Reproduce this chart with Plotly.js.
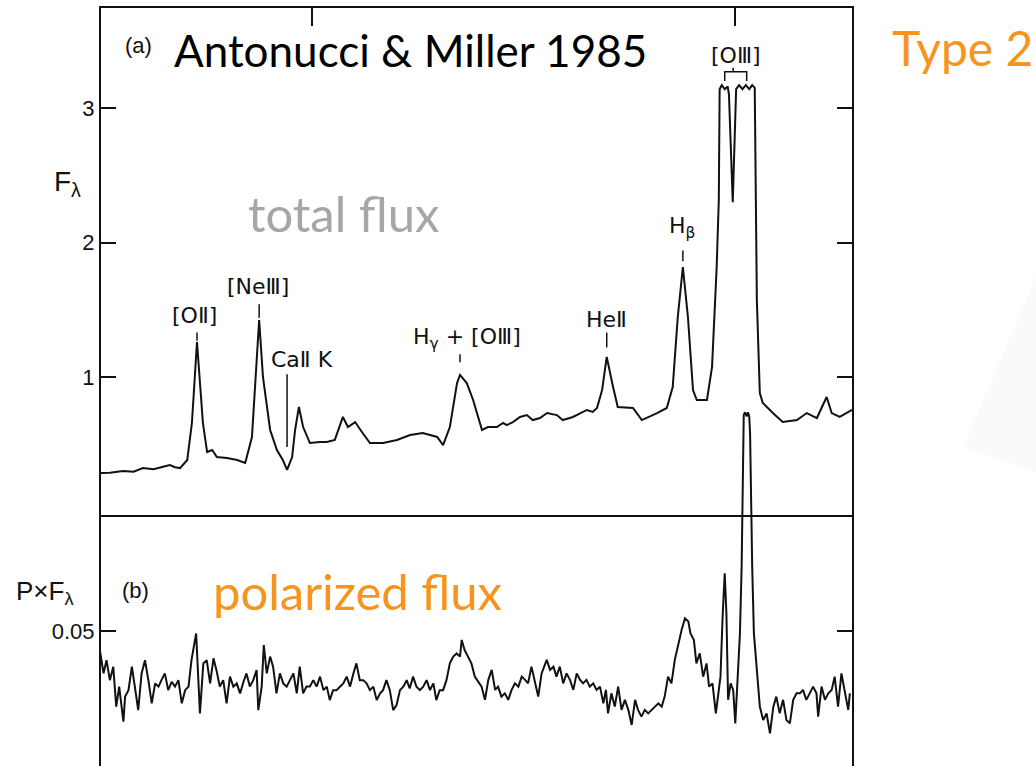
<!DOCTYPE html>
<html>
<head>
<meta charset="utf-8">
<script src="https://cdn.plot.ly/plotly-3.0.1.min.js"></script>
<style>html,body{margin:0;padding:0;background:#fff;}#chart{width:1036px;height:766px;}</style>
</head>
<body>
<div id="chart"></div>
<script>
// ---- Data ----
// Wavelength in Angstrom (axis ticks at 4000 and 5000)
const totalWave = [3501,3522,3553,3578,3600,3625,3648,3664,3676,3688,3705,3716,3728,3742,3752,3764,3775,3799,3823,3842,3858,3870,3875,3884,3901,3917,3931,3941,3953,3960,3969,3979,3995,4019,4035,4054,4073,4085,4102,4118,4137,4168,4201,4232,4262,4296,4310,4326,4343,4350,4366,4381,4402,4416,4437,4452,4461,4475,4492,4508,4522,4539,4556,4579,4593,4617,4634,4650,4664,4674,4686,4697,4712,4723,4759,4780,4816,4839,4853,4865,4877,4889,4901,4910,4934,4946,4957,4962,4964,4969,4976,4983,4986,4995,5003,5010,5018,5026,5034,5041,5047,5052,5059,5066,5090,5113,5147,5170,5194,5217,5229,5248,5277];
const totalFlux = [0.286,0.288,0.301,0.296,0.323,0.314,0.333,0.346,0.329,0.323,0.383,0.658,1.260,0.658,0.442,0.457,0.405,0.398,0.383,0.361,0.554,1.201,1.424,1.000,0.606,0.457,0.383,0.309,0.405,0.606,0.777,0.628,0.509,0.517,0.517,0.532,0.703,0.628,0.665,0.591,0.509,0.509,0.532,0.569,0.584,0.554,0.494,0.628,0.955,1.015,0.955,0.829,0.606,0.628,0.628,0.658,0.643,0.665,0.703,0.717,0.680,0.695,0.732,0.717,0.680,0.703,0.732,0.755,0.740,0.770,0.903,1.149,0.926,0.777,0.770,0.680,0.732,0.770,0.926,1.446,1.818,1.446,0.903,0.829,0.829,1.074,1.818,2.316,3.14,3.17,3.14,3.16,3.10,2.30,3.14,3.17,3.14,3.17,3.14,3.17,3.15,1.570,0.881,0.807,0.732,0.665,0.680,0.732,0.695,0.851,0.732,0.703,0.755];

const polWave = [3492,3499,3507,3514,3522,3530,3537,3544,3554,3558,3566,3574,3581,3589,3597,3605,3613,3621,3629,3637,3644,3652,3660,3668,3676,3684,3692,3700,3708,3715,3726,3731,3735,3743,3751,3759,3767,3774,3782,3790,3798,3806,3814,3822,3830,3838,3845,3853,3861,3869,3873,3881,3886,3893,3901,3908,3916,3924,3932,3940,3948,3956,3964,3971,3979,3987,3995,4003,4011,4019,4027,4035,4042,4050,4058,4066,4074,4082,4090,4098,4105,4113,4121,4129,4137,4145,4153,4161,4168,4176,4184,4192,4200,4208,4216,4224,4231,4239,4247,4255,4263,4271,4279,4287,4294,4302,4310,4318,4326,4334,4342,4350,4354,4361,4369,4377,4385,4397,4401,4409,4417,4425,4433,4440,4448,4456,4464,4472,4480,4488,4496,4504,4511,4519,4527,4535,4543,4555,4563,4571,4578,4586,4594,4602,4610,4618,4626,4634,4641,4649,4657,4665,4673,4681,4689,4695,4700,4708,4716,4724,4732,4740,4748,4756,4764,4771,4779,4787,4795,4803,4811,4819,4827,4834,4842,4850,4858,4866,4874,4882,4890,4895,4903,4909,4917,4925,4933,4939,4947,4955,4961,4966,4971,4976,4980,4984,4990,4996,5001,5006,5012,5016,5020,5021,5024,5028,5031,5034,5036,5037,5041,5045,5051,5059,5067,5075,5083,5091,5098,5106,5114,5122,5130,5138,5146,5154,5161,5169,5177,5185,5193,5197,5205,5213,5221,5229,5236,5244,5252,5260,5268,5272];
const polFlux = [0.0294,0.0423,0.0343,0.0392,0.0318,0.0368,0.0220,0.0294,0.0164,0.0257,0.0281,0.0368,0.0294,0.0207,0.0343,0.0392,0.0318,0.0232,0.0306,0.0294,0.0318,0.0343,0.0281,0.0312,0.0294,0.0318,0.0232,0.0281,0.0294,0.0392,0.0491,0.0294,0.0195,0.0380,0.0392,0.0306,0.0399,0.0355,0.0294,0.0318,0.0232,0.0331,0.0294,0.0306,0.0269,0.0312,0.0343,0.0294,0.0318,0.0355,0.0207,0.0294,0.0448,0.0343,0.0405,0.0368,0.0269,0.0343,0.0306,0.0294,0.0318,0.0343,0.0269,0.0368,0.0269,0.0294,0.0294,0.0318,0.0294,0.0331,0.0281,0.0294,0.0244,0.0281,0.0281,0.0294,0.0306,0.0331,0.0294,0.0343,0.0380,0.0318,0.0318,0.0306,0.0281,0.0294,0.0244,0.0269,0.0281,0.0318,0.0281,0.0207,0.0226,0.0281,0.0294,0.0318,0.0287,0.0331,0.0294,0.0281,0.0294,0.0318,0.0281,0.0306,0.0244,0.0281,0.0281,0.0318,0.0380,0.0405,0.0417,0.0405,0.0467,0.0429,0.0405,0.0380,0.0331,0.0306,0.0294,0.0245,0.0319,0.0356,0.0282,0.0294,0.0257,0.0269,0.0245,0.0282,0.0306,0.0294,0.0331,0.0319,0.0306,0.0368,0.0306,0.0257,0.0343,0.0393,0.0356,0.0368,0.0331,0.0368,0.0306,0.0343,0.0319,0.0282,0.0343,0.0319,0.0306,0.0319,0.0294,0.0306,0.0282,0.0294,0.0232,0.0282,0.0195,0.0269,0.0220,0.0294,0.0208,0.0245,0.0208,0.0152,0.0245,0.0208,0.0183,0.0208,0.0195,0.0208,0.0220,0.0232,0.0220,0.0257,0.0331,0.0306,0.0393,0.0454,0.0504,0.0547,0.0535,0.0491,0.0467,0.0380,0.0417,0.0331,0.0380,0.0294,0.0306,0.0195,0.0282,0.0331,0.0553,0.0714,0.0565,0.0245,0.0306,0.0282,0.0158,0.0306,0.0491,0.0738,0.1109,0.1300,0.1310,0.1295,0.1310,0.1295,0.1230,0.1109,0.0738,0.0491,0.0368,0.0220,0.0170,0.0195,0.0121,0.0220,0.0257,0.0195,0.0245,0.0170,0.0158,0.0245,0.0269,0.0269,0.0282,0.0245,0.0269,0.0294,0.0269,0.0183,0.0294,0.0245,0.0269,0.0282,0.0331,0.0220,0.0343,0.0282,0.0208,0.0269];

const fluxTicks = [1, 2, 3];
const polTicks = [0.05];
const polTickText = ['0.05'];
const waveTicks = [4000, 5000];

// line identifications: label, label wavelength, label flux, tick wavelength, tick flux from/to
const lineNames = ['[OⅡ]', '[NeⅢ]', 'CaⅡ K', 'H<sub>γ</sub> + [OⅢ]', 'HeⅡ', 'H<sub>β</sub>', '[OⅢ]'];
const lineLabelWave = [3723, 3872, 3976, 4366, 4697, 4875, 5002];
const lineLabelFlux = [1.46, 1.67, 1.13, 1.29, 1.43, 2.11, 3.39];
const lineTickWave = [3728, 3875, 3941, 4350, 4697, 4877, 4996];
const lineTickFrom = [1.33, 1.54, 1.02, 1.17, 1.33, 1.94, 3.30];
const lineTickTo = [1.27, 1.44, 0.48, 1.11, 1.22, 1.86, 3.27];

// ---- Layout helpers (pixel -> paper) ----
const W = 1036, H = 766;
const px = x => x / W;
const py = y => 1 - y / H;
const LEFT = 101, RIGHT = 852, TOP = 8, DIV = 515, POLTOP = 400;

const traces = [
  {x: totalWave, y: totalFlux, xaxis: 'x', yaxis: 'y', mode: 'lines',
   line: {color: '#111', width: 2}, hoverinfo: 'skip', showlegend: false},
  {x: polWave, y: polFlux, xaxis: 'x2', yaxis: 'y2', mode: 'lines',
   line: {color: '#111', width: 2}, hoverinfo: 'skip', showlegend: false}
];

const axisFont = {family: 'Liberation Sans, Arial, sans-serif', size: 22, color: '#111'};
const labelFont = {family: 'DejaVu Sans, Liberation Sans, sans-serif', size: 22, color: '#111'};

const annotations = [];
const shapes = [];
for (let i = 0; i < lineNames.length; i++) {
  annotations.push({xref: 'x', yref: 'y', x: lineLabelWave[i], y: lineLabelFlux[i],
    text: lineNames[i], showarrow: false, font: labelFont, xanchor: 'center', yanchor: 'middle'});
  shapes.push({type: 'line', xref: 'x', yref: 'y', x0: lineTickWave[i], x1: lineTickWave[i],
    y0: lineTickFrom[i], y1: lineTickTo[i], line: {color: '#111', width: 1.5}});
}
// bracket over the [OIII] doublet
shapes.push({type: 'path', xref: 'x', yref: 'y',
  path: 'M 4976 3.20 L 4976 3.27 L 5028 3.27 L 5028 3.20', line: {color: '#111', width: 1.5}});

// faint background shape on the right
shapes.push({type: 'path', xref: 'paper', yref: 'paper', layer: 'below',
  path: `M ${px(963)} ${py(447)} L 1 ${py(277)} L 1 ${py(473)} Z`,
  fillcolor: '#fafafa', line: {width: 0}});

const orange = '#f7941d';
annotations.push(
  {xref: 'paper', yref: 'paper', x: px(138), y: py(46), text: '(a)', showarrow: false,
   font: {family: 'Liberation Sans, sans-serif', size: 22, color: '#111'}, xanchor: 'center', yanchor: 'middle'},
  {xref: 'paper', yref: 'paper', x: px(172), y: py(50), text: 'Antonucci &amp; Miller 1985', showarrow: false,
   font: {family: 'Lato, sans-serif', size: 44, color: '#000'}, xanchor: 'left', yanchor: 'middle'},
  {xref: 'paper', yref: 'paper', x: px(246), y: py(213), text: 'total flux', showarrow: false,
   font: {family: 'Lato, sans-serif', size: 49, color: '#a6a6a6'}, xanchor: 'left', yanchor: 'middle'},
  {xref: 'paper', yref: 'paper', x: px(890), y: py(48), text: 'Type 2', showarrow: false,
   font: {family: 'Lato, sans-serif', size: 48, color: orange}, xanchor: 'left', yanchor: 'middle'},
  {xref: 'paper', yref: 'paper', x: px(211), y: py(591), text: 'polarized flux', showarrow: false,
   font: {family: 'Lato, sans-serif', size: 49, color: orange}, xanchor: 'left', yanchor: 'middle'},
  {xref: 'paper', yref: 'paper', x: px(135), y: py(590), text: '(b)', showarrow: false,
   font: {family: 'Liberation Sans, sans-serif', size: 22, color: '#111'}, xanchor: 'center', yanchor: 'middle'},
  {xref: 'paper', yref: 'paper', x: px(67), y: py(183), text: 'F<sub>λ</sub>', showarrow: false,
   font: {family: 'Liberation Sans, sans-serif', size: 28, color: '#111'}, xanchor: 'center', yanchor: 'middle'},
  {xref: 'paper', yref: 'paper', x: px(45), y: py(592), text: 'P×F<sub>λ</sub>', showarrow: false,
   font: {family: 'Liberation Sans, sans-serif', size: 26, color: '#111'}, xanchor: 'center', yanchor: 'middle'}
);

const layout = {
  width: W, height: H,
  margin: {l: 0, r: 0, t: 0, b: 0},
  paper_bgcolor: '#fff', plot_bgcolor: 'rgba(0,0,0,0)',
  showlegend: false,
  xaxis: {domain: [px(LEFT), px(RIGHT)], range: [3501, 5277], anchor: 'y', side: 'top',
    showline: true, mirror: true, linecolor: '#111', linewidth: 2,
    ticks: 'inside', ticklen: 18, tickwidth: 2, tickcolor: '#111', tickvals: waveTicks,
    showticklabels: false, showgrid: false, zeroline: false},
  yaxis: {domain: [py(DIV), py(TOP)], range: [-0.026, 3.7435], anchor: 'x',
    showline: true, mirror: 'ticks', linecolor: '#111', linewidth: 2,
    ticks: 'inside', ticklen: 15, tickwidth: 2, tickcolor: '#111', tickvals: fluxTicks,
    tickfont: axisFont, showgrid: false, zeroline: false},
  xaxis2: {domain: [px(LEFT), px(RIGHT)], range: [3501, 5277], anchor: 'y2', matches: 'x',
    showline: false, ticks: '', showticklabels: false, showgrid: false, zeroline: false},
  yaxis2: {domain: [0, py(POLTOP)], range: [0, (H - POLTOP) / 2700], anchor: 'x2',
    showline: true, mirror: 'ticks', linecolor: '#111', linewidth: 2,
    ticks: 'inside', ticklen: 15, tickwidth: 2, tickcolor: '#111', tickvals: polTicks, ticktext: polTickText,
    tickfont: axisFont, showgrid: false, zeroline: false},
  annotations: annotations,
  shapes: shapes
};

Plotly.newPlot('chart', traces, layout, {staticPlot: true, displayModeBar: false});
</script>
</body>
</html>
